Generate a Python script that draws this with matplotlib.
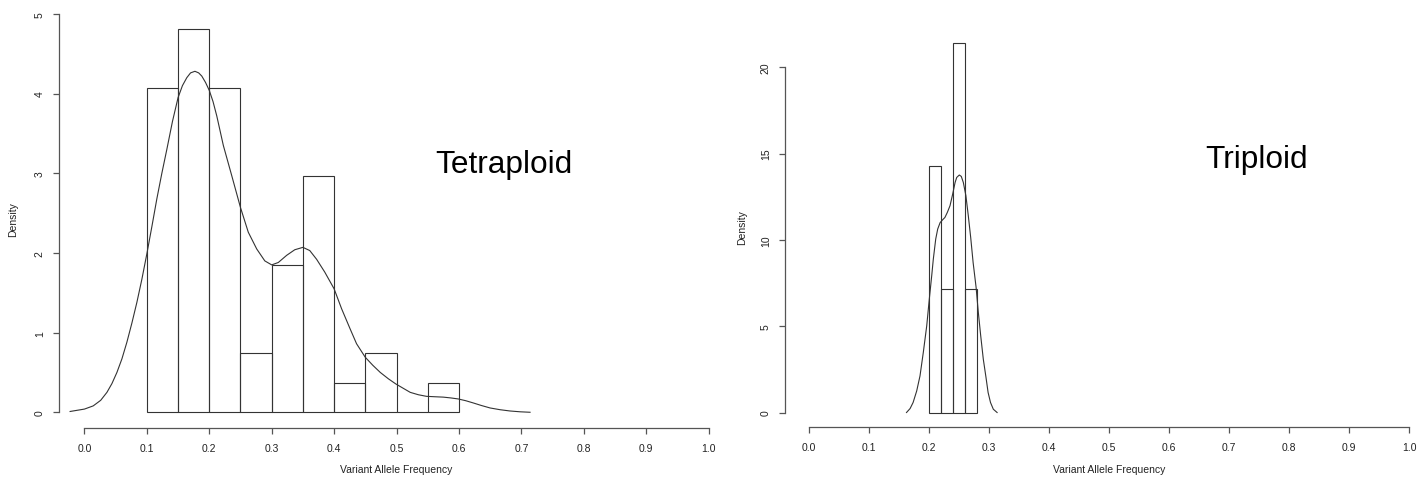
import numpy as np
import matplotlib.pyplot as plt

plt.rcParams['font.family'] = ['Liberation Sans', 'DejaVu Sans']

# Tetraploid histogram (density) and density curve
tetra_edges = [0.10, 0.15, 0.20, 0.25, 0.30, 0.35, 0.40, 0.45, 0.50, 0.55, 0.60]
tetra_dens = [4.07, 4.81, 4.07, 0.74, 1.85, 2.96, 0.37, 0.74, 0.0, 0.37]
tetra_kx = [-0.023, 0.000, 0.014, 0.026, 0.036, 0.044, 0.052, 0.060, 0.068, 0.076,
            0.084, 0.092, 0.100, 0.108, 0.116, 0.124, 0.132, 0.141, 0.150, 0.157,
            0.164, 0.170, 0.177, 0.183, 0.188, 0.194, 0.200, 0.206, 0.212, 0.2225,
            0.236, 0.250, 0.2625, 0.276, 0.289, 0.300, 0.3106, 0.324, 0.337, 0.350,
            0.361, 0.372, 0.385, 0.400, 0.412, 0.4255, 0.436, 0.450, 0.462, 0.474,
            0.487, 0.499, 0.511, 0.522, 0.535, 0.548, 0.561, 0.575, 0.587, 0.599,
            0.611, 0.623, 0.636, 0.650, 0.666, 0.682, 0.698, 0.714]
tetra_ky = [0.01, 0.04, 0.08, 0.15, 0.25, 0.36, 0.50, 0.67, 0.88, 1.12,
            1.38, 1.67, 1.99, 2.33, 2.68, 3.00, 3.30, 3.65, 3.95, 4.10,
            4.20, 4.26, 4.28, 4.26, 4.22, 4.14, 4.04, 3.90, 3.72, 3.35,
            2.97, 2.57, 2.26, 2.05, 1.90, 1.85, 1.88, 1.97, 2.04, 2.07,
            2.03, 1.92, 1.76, 1.55, 1.30, 1.05, 0.86, 0.69, 0.59, 0.50,
            0.42, 0.355, 0.30, 0.25, 0.22, 0.20, 0.195, 0.19, 0.18, 0.167,
            0.145, 0.117, 0.085, 0.054, 0.032, 0.016, 0.006, 0.0]

# Triploid histogram (density) and density curve
tri_edges = [0.20, 0.22, 0.24, 0.26, 0.28]
tri_dens = [14.29, 7.14, 21.43, 7.14]
tri_kx = [0.162, 0.168, 0.173, 0.179, 0.1845, 0.190, 0.1957, 0.200, 0.204, 0.2067,
          0.2107, 0.214, 0.218, 0.2223, 0.226, 0.230, 0.2345, 0.239, 0.243, 0.2457,
          0.250, 0.2533, 0.2567, 0.261, 0.265, 0.269, 0.273, 0.278, 0.2817, 0.2857,
          0.290, 0.2945, 0.298, 0.302, 0.3067, 0.313]
tri_ky = [0.0, 0.23, 0.58, 1.25, 2.12, 3.48, 5.02, 6.57, 7.92, 8.89,
          10.05, 10.63, 11.0, 11.17, 11.3, 11.59, 11.98, 12.66, 13.33, 13.62,
          13.76, 13.68, 13.33, 12.56, 11.4, 10.14, 8.7, 7.25, 5.8, 4.44,
          3.09, 2.03, 1.16, 0.58, 0.19, 0.0]

W, H = 1418, 481
fig = plt.figure(figsize=(W / 100, H / 100), dpi=100)

def px_axes(x0, x1, ybot, ytop):
    return fig.add_axes([x0 / W, (H - ybot) / H, (x1 - x0) / W, (ybot - ytop) / H])

line_c = '#333333'
axis_c = '#555555'

def style(ax, yticks, ymax_tick):
    for s in ['top', 'right']:
        ax.spines[s].set_visible(False)
    ax.spines['left'].set_bounds(0, ymax_tick)
    ax.spines['bottom'].set_bounds(0, 1)
    for s in ['left', 'bottom']:
        ax.spines[s].set_color(axis_c)
        ax.spines[s].set_linewidth(0.9)
    ax.set_xticks(np.arange(0, 1.01, 0.1))
    ax.set_xticklabels(['%.1f' % v for v in np.arange(0, 1.01, 0.1)])
    ax.set_yticks(yticks)
    ax.set_yticklabels([str(v) for v in yticks], rotation=90, va='center')
    ax.tick_params(length=4.5, width=0.9, color=axis_c, labelsize=7.5, pad=6,
                   labelcolor='#222222')
    ax.patch.set_visible(False)

def bars(ax, edges, dens):
    edges = np.array(edges)
    ax.bar(edges[:-1], dens, width=np.diff(edges), align='edge', fill=False,
           edgecolor=line_c, linewidth=0.8)

# left panel
ax1 = px_axes(59.5, 733.5, 429.2, -1.0)
ax1.set_xlim(-0.04, 1.04)
ax1.set_ylim(-0.2, 5.2)
bars(ax1, tetra_edges, tetra_dens)
ax1.plot(tetra_kx, tetra_ky, color=line_c, lw=0.8)
style(ax1, [0, 1, 2, 3, 4, 5], 5)
ax1.text(0.672, 3.12, 'Tetraploid', fontsize=22.8, ha='center', va='center')

# right panel
ax2 = px_axes(785.3, 1433.3, 428.3, 28.8)
ax2.set_xlim(-0.04, 1.04)
ax2.set_ylim(-0.857, 22.29)
bars(ax2, tri_edges, tri_dens)
ax2.plot(tri_kx, tri_ky, color=line_c, lw=0.8)
style(ax2, [0, 5, 10, 15, 20], 20)
ax2.text(0.746, 14.7, 'Triploid', fontsize=22.8, ha='center', va='center')

# axis titles
fig.text(396 / W, 1 - 470 / H, 'Variant Allele Frequency', fontsize=7.5,
         ha='center', va='center', color='#222222')
fig.text(1109 / W, 1 - 470 / H, 'Variant Allele Frequency', fontsize=7.5,
         ha='center', va='center', color='#222222')
fig.text(13 / W, 1 - 220 / H, 'Density', fontsize=7.5, rotation=90,
         ha='center', va='center', color='#222222')
fig.text(742 / W, 1 - 228 / H, 'Density', fontsize=7.5, rotation=90,
         ha='center', va='center', color='#222222')

fig.savefig('out.png', dpi=100)
